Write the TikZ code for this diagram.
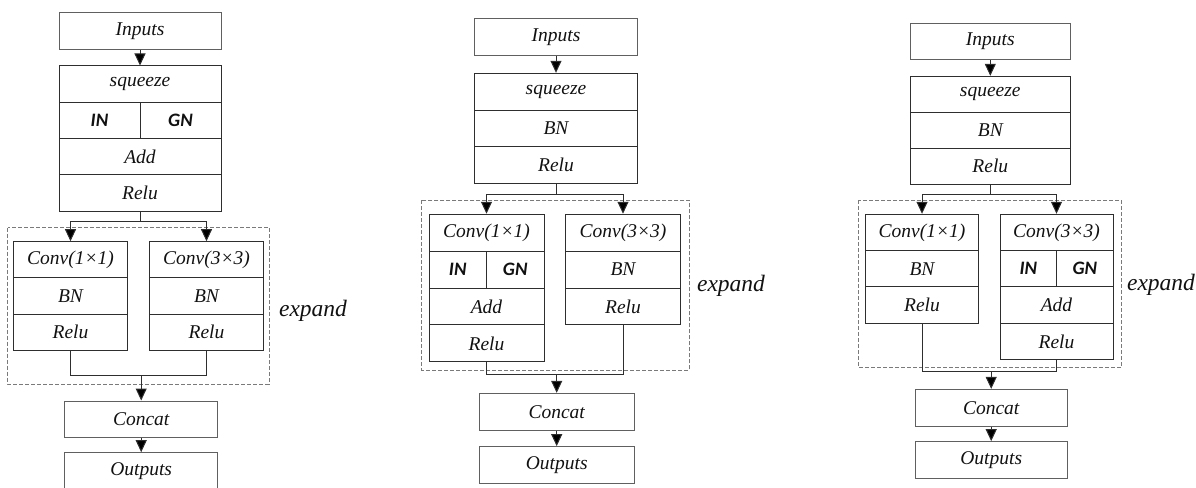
\documentclass[tikz,border=0pt]{standalone}
\usepackage{fontspec}
\setmainfont{Liberation Serif}
\newfontfamily\cellsans{Carlito}
\usetikzlibrary{arrows.meta}
\definecolor{linec}{HTML}{2E2E2E}
\definecolor{outc}{HTML}{606060}
\definecolor{dashc}{HTML}{7A7A7A}
\definecolor{txtc}{HTML}{111111}
\tikzset{
  cell/.style={draw=linec, line width=1pt, inner sep=0pt, text=txtc,
    font=\fontsize{19.5}{21}\selectfont\itshape},
  outer/.style={cell, draw=outc},
  nbox/.style={cell, font=\fontsize{19}{21}\selectfont\cellsans\bfseries\itshape},
  conn/.style={draw=linec, line width=1pt},
  arr/.style={conn, -{Triangle[length=12pt,width=11pt,fill=black]}},
  expandbox/.style={draw=dashc, line width=0.9pt, dash pattern=on 4pt off 2pt},
  explabel/.style={text=txtc, font=\fontsize{23.5}{25}\selectfont\itshape},
}
\begin{document}
\begin{tikzpicture}[x=1pt,y=-1pt]
\useasboundingbox (0,0) rectangle (1196,487);
\clip (0,0) rectangle (1196,487);

% ================= Diagram 1 =================
\node[outer, minimum width=162, minimum height=36.3] (a-in) at (140,31) {Inputs};
\node[cell, minimum width=162, minimum height=36.3] (a-sq) at (140,84.15) {squeeze};
\node[nbox, minimum width=81, minimum height=36.3] (a-IN) at (99.5,120.45) {IN};
\node[nbox, minimum width=81, minimum height=36.3] (a-GN) at (180.5,120.45) {GN};
\node[cell, minimum width=162, minimum height=36.3] (a-add) at (140,156.75) {Add};
\node[cell, minimum width=162, minimum height=36.3] (a-relu) at (140,193.05) {Relu};

\draw[expandbox] (7.7,227.7) rectangle (269.3,384);
\node[explabel] (a-exp) at (313,311) {expand};

\node[cell, minimum width=114.4, minimum height=36.2] (a-c1) at (70.5,259.8) {Conv(1\texttimes1)};
\node[cell, minimum width=114.4, minimum height=36.2] (a-bn1) at (70.5,296) {BN};
\node[cell, minimum width=114.4, minimum height=36.2] (a-r1) at (70.5,332.2) {Relu};
\node[cell, minimum width=113.6, minimum height=36.2] (a-c3) at (206.5,259.8) {Conv(3\texttimes3)};
\node[cell, minimum width=113.6, minimum height=36.2] (a-bn3) at (206.5,296) {BN};
\node[cell, minimum width=113.6, minimum height=36.2] (a-r3) at (206.5,332.2) {Relu};

\node[outer, minimum width=153, minimum height=36] (a-cat) at (141.2,419) {Concat};
\node[outer, minimum width=153, minimum height=36] (a-out) at (141.2,470.7) {Outputs};

\draw[arr] (a-in) -- (a-sq);
\coordinate (a-s) at (140,221);
\draw[conn] (a-relu.south) -- (a-s);
\draw[arr] (a-s) -| (a-c1.north);
\draw[arr] (a-s) -| (a-c3.north);
\coordinate (a-m) at (141.2,375.3);
\draw[conn] (a-r1.south) |- (a-m) -| (a-r3.south);
\draw[arr] (a-m) -- (a-cat.north);
\draw[arr] (a-cat) -- (a-out);

% ================= Diagram 2 =================
\node[outer, minimum width=163.4, minimum height=37] (b-in) at (556,37.5) {Inputs};
\node[cell, minimum width=163.4, minimum height=36.8] (b-sq) at (556,91.7) {squeeze};
\node[cell, minimum width=163.4, minimum height=36.8] (b-bn) at (556,128.5) {BN};
\node[cell, minimum width=163.4, minimum height=36.8] (b-relu) at (556,165.3) {Relu};

\draw[expandbox] (421.7,200.3) rectangle (689.3,370);
\node[explabel] (b-exp) at (731,286) {expand};

\node[cell, minimum width=115, minimum height=36.9] (b-c1) at (486.5,232.7) {Conv(1\texttimes1)};
\node[nbox, minimum width=57.3, minimum height=36.9] (b-IN) at (457.7,269.6) {IN};
\node[nbox, minimum width=57.7, minimum height=36.9] (b-GN) at (515.2,269.6) {GN};
\node[cell, minimum width=115, minimum height=36.9] (b-add) at (486.5,306.5) {Add};
\node[cell, minimum width=115, minimum height=36.9] (b-r1) at (486.5,343.4) {Relu};
\node[cell, minimum width=115.4, minimum height=36.9] (b-c3) at (623,232.7) {Conv(3\texttimes3)};
\node[cell, minimum width=115.4, minimum height=36.9] (b-bn3) at (623,269.6) {BN};
\node[cell, minimum width=115.4, minimum height=36.9] (b-r3) at (623,306.5) {Relu};

\node[outer, minimum width=154.7, minimum height=36.7] (b-cat) at (556.7,411.7) {Concat};
\node[outer, minimum width=154.7, minimum height=36.7] (b-out) at (556.7,465) {Outputs};

\draw[arr] (b-in) -- (b-sq);
\coordinate (b-s) at (556,194.3);
\draw[conn] (b-relu.south) -- (b-s);
\draw[arr] (b-s) -| (b-c1.north);
\draw[arr] (b-s) -| (b-c3.north);
\coordinate (b-m) at (556.7,374.7);
\draw[conn] (b-r1.south) |- (b-m) -| (b-r3.south);
\draw[arr] (b-m) -- (b-cat.north);
\draw[arr] (b-cat) -- (b-out);

% ================= Diagram 3 =================
\node[outer, minimum width=160, minimum height=36.3] (c-in) at (990.3,41.2) {Inputs};
\node[cell, minimum width=160, minimum height=35.9] (c-sq) at (990.3,94.25) {squeeze};
\node[cell, minimum width=160, minimum height=35.9] (c-bn) at (990.3,130.15) {BN};
\node[cell, minimum width=160, minimum height=35.9] (c-relu) at (990.3,166.05) {Relu};

\draw[expandbox] (858.3,200.3) rectangle (1121.7,367.3);
\node[explabel] (c-exp) at (1161,284.5) {expand};

\node[cell, minimum width=112.6, minimum height=36.3] (c-c1) at (922,232.45) {Conv(1\texttimes1)};
\node[cell, minimum width=112.6, minimum height=36.3] (c-bn1) at (922,268.75) {BN};
\node[cell, minimum width=112.6, minimum height=36.3] (c-r1) at (922,305.05) {Relu};
\node[cell, minimum width=113, minimum height=36.3] (c-c3) at (1056.5,232.45) {Conv(3\texttimes3)};
\node[nbox, minimum width=56.7, minimum height=36.3] (c-IN) at (1028.35,268.75) {IN};
\node[nbox, minimum width=56.3, minimum height=36.3] (c-GN) at (1084.85,268.75) {GN};
\node[cell, minimum width=113, minimum height=36.3] (c-add) at (1056.5,305.05) {Add};
\node[cell, minimum width=113, minimum height=36.3] (c-r3) at (1056.5,341.35) {Relu};

\node[outer, minimum width=152.3, minimum height=36.7] (c-cat) at (991.2,407.7) {Concat};
\node[outer, minimum width=152.3, minimum height=36.7] (c-out) at (991.2,460) {Outputs};

\draw[arr] (c-in) -- (c-sq);
\coordinate (c-s) at (990.3,194.3);
\draw[conn] (c-relu.south) -- (c-s);
\draw[arr] (c-s) -| (c-c1.north);
\draw[arr] (c-s) -| (c-c3.north);
\coordinate (c-m) at (991.2,371.7);
\draw[conn] (c-r1.south) |- (c-m) -| (c-r3.south);
\draw[arr] (c-m) -- (c-cat.north);
\draw[arr] (c-cat) -- (c-out);
\end{tikzpicture}
\end{document}
